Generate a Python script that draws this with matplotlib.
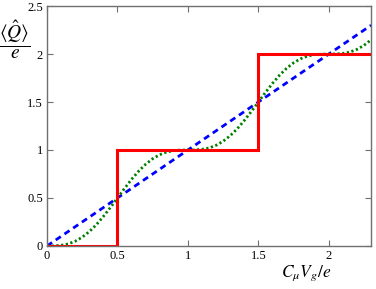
import numpy as np
import matplotlib
matplotlib.use("Agg")
import matplotlib.pyplot as plt

# データ
x_step = [0, 0.5, 0.5, 1.5, 1.5, 2.3]
y_step = [0, 0, 1, 1, 2, 2]

x_lin = [0, 2.3]
y_lin = [0, 2.3]

x_smooth = [0.00, 0.05, 0.10, 0.15, 0.20, 0.25, 0.30, 0.35, 0.40, 0.45,
            0.50, 0.55, 0.60, 0.65, 0.70, 0.75, 0.80, 0.85, 0.90, 0.95,
            1.00, 1.05, 1.10, 1.15, 1.20, 1.25, 1.30, 1.35, 1.40, 1.45,
            1.50, 1.55, 1.60, 1.65, 1.70, 1.75, 1.80, 1.85, 1.90, 1.95,
            2.00, 2.05, 2.10, 2.15, 2.20, 2.25, 2.30]
y_smooth = [0.000, 0.001, 0.007, 0.021, 0.049, 0.091, 0.149, 0.221, 0.307, 0.401,
            0.500, 0.599, 0.694, 0.779, 0.851, 0.909, 0.951, 0.979, 0.994, 0.999,
            1.000, 1.001, 1.007, 1.021, 1.049, 1.091, 1.149, 1.221, 1.307, 1.401,
            1.500, 1.599, 1.694, 1.779, 1.851, 1.909, 1.951, 1.979, 1.994, 1.999,
            2.000, 2.001, 2.007, 2.021, 2.049, 2.091, 2.149]

x_ticks = [0, 0.5, 1, 1.5, 2]
x_ticklabels = ["0", "0.5", "1", "1.5", "2"]
y_ticks = [0, 0.5, 1, 1.5, 2, 2.5]
y_ticklabels = ["0", "0.5", "1", "1.5", "2", "2.5"]

plt.rcParams['font.family'] = ['Liberation Serif', 'DejaVu Serif']
plt.rcParams['mathtext.fontset'] = 'stix'

fig = plt.figure(figsize=[3.76, 2.89], dpi=100)
ax = fig.add_axes([0.125, 0.149, 0.862, 0.830])

ax.plot(x_lin, y_lin, color='#0000ff', lw=2.0, ls=(0, (2.2, 1.6)))
ax.plot(x_smooth, y_smooth, color='#008000', lw=2.0, ls=(0, (0.8, 0.9)))
ax.plot(x_step, y_step, color='#ff0000', lw=2.2, solid_joinstyle='miter')

ax.set_xlim(0, 2.3)
ax.set_ylim(0, 2.5)
ax.set_xticks(x_ticks)
ax.set_xticklabels(x_ticklabels)
ax.set_yticks(y_ticks)
ax.set_yticklabels(y_ticklabels)
ax.tick_params(direction='in', top=True, right=True, length=4, width=0.8,
               color='#707070', labelsize=9, pad=3)
for s in ax.spines.values():
    s.set_color('#707070')
    s.set_linewidth(1.0)

fig.text(0.04, 0.86, r'$\dfrac{\langle \hat{Q} \rangle}{e}$', fontsize=14,
         ha='center', va='center')
fig.text(0.815, 0.055, r'$C_\mu V_g/e$', fontsize=12.5, ha='center', va='center')

plt.savefig('out.png', dpi=100)
